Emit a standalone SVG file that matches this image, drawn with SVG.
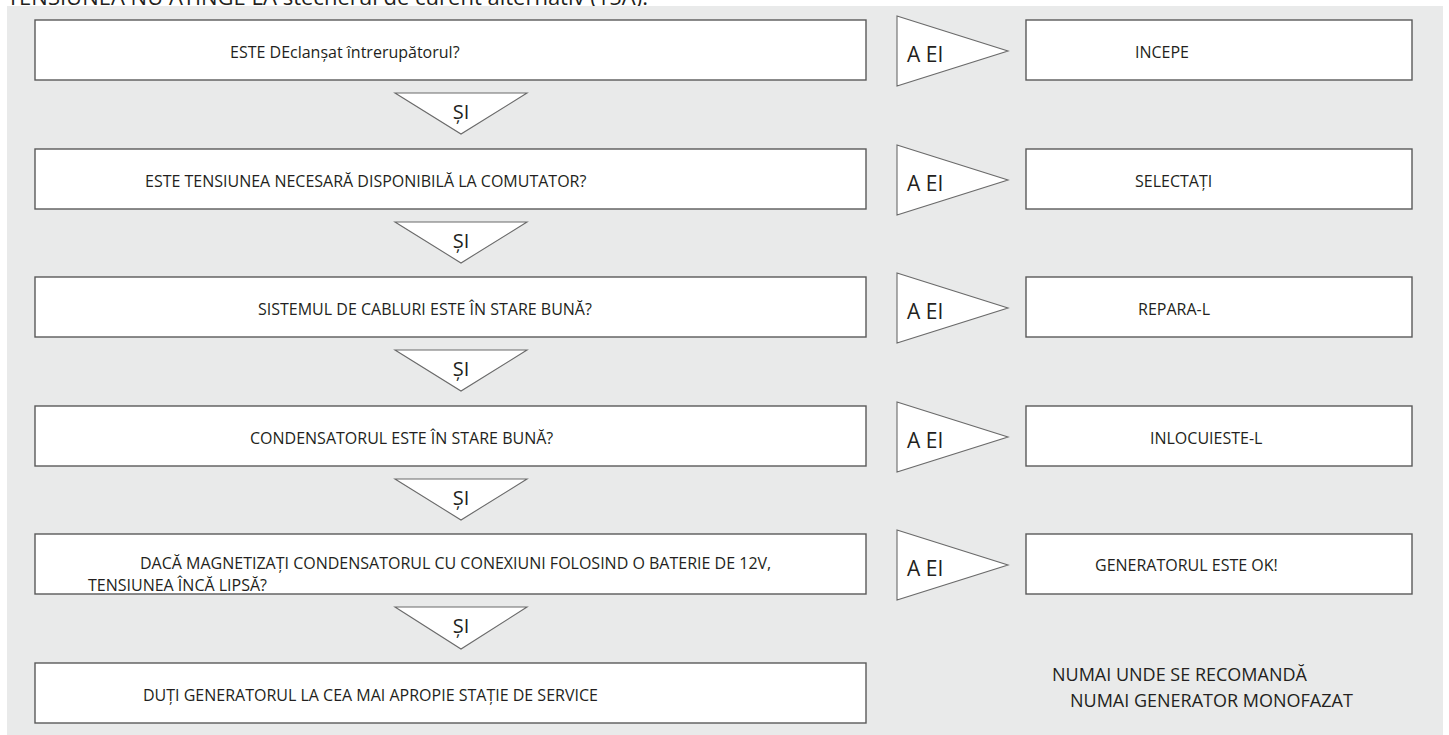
<svg xmlns="http://www.w3.org/2000/svg" width="1449" height="735" viewBox="0 0 1449 735">
<style>
text{font-family:"Open Sans","Noto Sans","DejaVu Sans",sans-serif;fill:#231f20}
.box{fill:#fff;stroke:#5a5a5a;stroke-width:1.4}
.tri{fill:#fff;stroke:#6a6a6a;stroke-width:1.1}
.t{font-size:16px}
.si{font-size:20px;text-anchor:middle}
.no{font-size:21px}
.note{font-size:18px}
</style>
<rect width="1449" height="735" fill="#fff"/>
<text x="7" y="5" style="font-size:22px">TENSIUNEA NU ATINGE LA ștecherul de curent alternativ (15A).</text>
<rect x="7" y="6" width="1436" height="729" fill="#e9eaea"/>
<g id="connectors">
<polygon class="tri" points="395,93 527,93 461,134"/>
<polygon class="tri" points="395,222 527,222 461,263"/>
<polygon class="tri" points="395,350 527,350 461,391"/>
<polygon class="tri" points="395,479 527,479 461,520"/>
<polygon class="tri" points="395,607 527,607 461,649"/>
<text class="si" x="461" y="119">ȘI</text>
<text class="si" x="461" y="248">ȘI</text>
<text class="si" x="461" y="376">ȘI</text>
<text class="si" x="461" y="505">ȘI</text>
<text class="si" x="461" y="633">ȘI</text>
<polygon class="tri" points="897,16 1008,51 897,86"/>
<polygon class="tri" points="897,145 1008,180 897,215"/>
<polygon class="tri" points="897,273 1008,308 897,343"/>
<polygon class="tri" points="897,402 1008,437 897,472"/>
<polygon class="tri" points="897,530 1008,565 897,600"/>
<text class="no" x="907" y="62">A EI</text>
<text class="no" x="907" y="191">A EI</text>
<text class="no" x="907" y="319">A EI</text>
<text class="no" x="907" y="448">A EI</text>
<text class="no" x="907" y="576">A EI</text>
</g>
<g id="q1"><rect class="box" x="35" y="20" width="831" height="60"/><text class="t" x="230" y="58">ESTE DEclanșat întrerupătorul?</text></g>
<g id="q2"><rect class="box" x="35" y="149" width="831" height="60"/><text class="t" x="145" y="187">ESTE TENSIUNEA NECESARĂ DISPONIBILĂ LA COMUTATOR?</text></g>
<g id="q3"><rect class="box" x="35" y="277" width="831" height="60"/><text class="t" x="258" y="315">SISTEMUL DE CABLURI ESTE ÎN STARE BUNĂ?</text></g>
<g id="q4"><rect class="box" x="35" y="406" width="831" height="60"/><text class="t" x="250" y="444">CONDENSATORUL ESTE ÎN STARE BUNĂ?</text></g>
<g id="q5"><rect class="box" x="35" y="534" width="831" height="60"/><text class="t" x="140" y="569">DACĂ MAGNETIZAȚI CONDENSATORUL CU CONEXIUNI FOLOSIND O BATERIE DE 12V,</text><text class="t" x="88" y="591">TENSIUNEA ÎNCĂ LIPSĂ?</text></g>
<g id="q6"><rect class="box" x="35" y="663" width="831" height="60"/><text class="t" x="143" y="701">DUȚI GENERATORUL LA CEA MAI APROPIE STAȚIE DE SERVICE</text></g>
<g id="a1"><rect class="box" x="1026" y="20" width="386" height="60"/><text class="t" x="1135" y="58">INCEPE</text></g>
<g id="a2"><rect class="box" x="1026" y="149" width="386" height="60"/><text class="t" x="1135" y="187">SELECTAȚI</text></g>
<g id="a3"><rect class="box" x="1026" y="277" width="386" height="60"/><text class="t" x="1138" y="315">REPARA-L</text></g>
<g id="a4"><rect class="box" x="1026" y="406" width="386" height="60"/><text class="t" x="1150" y="444">INLOCUIESTE-L</text></g>
<g id="a5"><rect class="box" x="1026" y="534" width="386" height="60"/><text class="t" x="1095" y="571">GENERATORUL ESTE OK!</text></g>
<g id="note"><text class="note" x="1052" y="681">NUMAI UNDE SE RECOMANDĂ</text><text class="note" x="1070" y="707">NUMAI GENERATOR MONOFAZAT</text></g>
</svg>
